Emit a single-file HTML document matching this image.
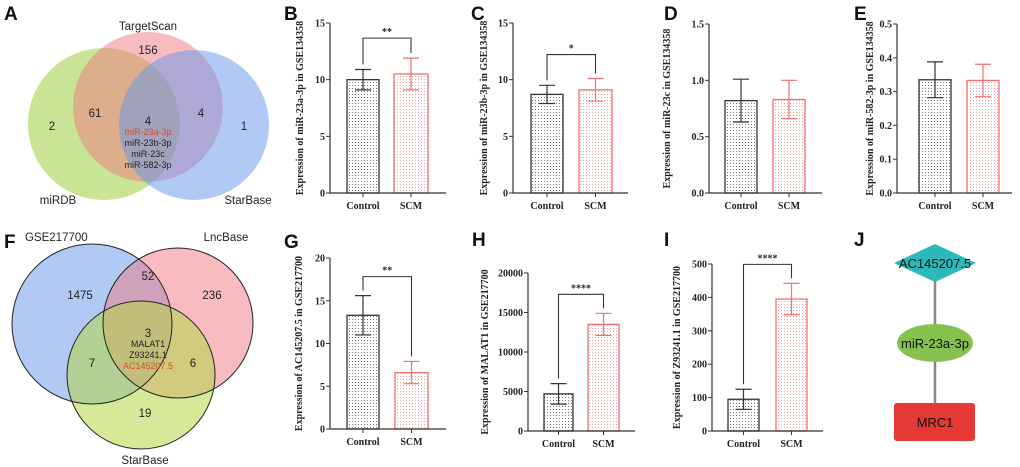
<!DOCTYPE html>
<html><head><meta charset="utf-8"><style>
html,body{margin:0;padding:0;background:#fff;}
svg{display:block;}
.pl{font-family:"Liberation Sans",sans-serif;font-weight:bold;font-size:19px;fill:#111;}
.vt{font-family:"Liberation Sans",sans-serif;font-size:11.5px;fill:#222;}
.vs{font-family:"Liberation Sans",sans-serif;font-size:9px;fill:#222;}
.ax{font-family:"Liberation Serif",serif;font-weight:bold;font-size:10px;fill:#222;}
</style></head><body>
<svg id="fig" width="1020" height="467" viewBox="0 0 1020 467" xmlns="http://www.w3.org/2000/svg">
<defs>
<pattern id="dotK" width="3" height="3" patternUnits="userSpaceOnUse"><rect width="3" height="3" fill="#fff"/><circle cx="1.5" cy="1.5" r="0.55" fill="#555"/></pattern>
<pattern id="dotR" width="3" height="3" patternUnits="userSpaceOnUse"><rect width="3" height="3" fill="#fff"/><circle cx="1.5" cy="1.5" r="0.55" fill="#f38a8a"/></pattern>
</defs>

<g>
<text class="pl" x="4" y="20">A</text><text class="pl" x="284" y="20">B</text><text class="pl" x="471" y="20">C</text>
<text class="pl" x="664" y="20">D</text><text class="pl" x="854" y="20">E</text>
<text class="pl" x="4" y="248">F</text><text class="pl" x="284" y="248">G</text><text class="pl" x="472" y="246">H</text>
<text class="pl" x="664" y="246">I</text><text class="pl" x="854" y="246">J</text>
</g>

<g>
<circle cx="104" cy="124" r="76" fill="rgb(155,205,60)" opacity="0.55"/>
<circle cx="148" cy="107" r="75" fill="rgb(240,120,130)" opacity="0.5"/>
<circle cx="194" cy="125" r="75" fill="rgb(100,150,235)" opacity="0.5"/>
<text class="vt" x="148" y="30" text-anchor="middle">TargetScan</text>
<text class="vt" x="148" y="54" text-anchor="middle">156</text>
<text class="vt" x="95" y="117" text-anchor="middle">61</text>
<text class="vt" x="52" y="130" text-anchor="middle">2</text>
<text class="vt" x="201" y="117" text-anchor="middle">4</text>
<text class="vt" x="244" y="130" text-anchor="middle">1</text>
<text class="vt" x="148" y="125" text-anchor="middle">4</text>
<text class="vs" x="148" y="135" text-anchor="middle" style="fill:#e0462f">miR-23a-3p</text>
<text class="vs" x="148" y="146" text-anchor="middle">miR-23b-3p</text>
<text class="vs" x="148" y="157" text-anchor="middle">miR-23c</text>
<text class="vs" x="148" y="168" text-anchor="middle">miR-582-3p</text>
<text class="vt" x="58" y="204" text-anchor="middle">miRDB</text>
<text class="vt" x="248" y="204" text-anchor="middle">StarBase</text>
</g>

<g>
<circle cx="92" cy="324" r="80" fill="rgb(100,150,235)" opacity="0.5"/>
<circle cx="178" cy="323" r="75" fill="rgb(240,120,130)" opacity="0.5"/>
<circle cx="141" cy="375" r="74" fill="rgb(180,215,70)" opacity="0.55"/>
<circle cx="92" cy="324" r="80" fill="none" stroke="#222" stroke-width="1"/>
<circle cx="178" cy="323" r="75" fill="none" stroke="#222" stroke-width="1"/>
<circle cx="141" cy="375" r="74" fill="none" stroke="#222" stroke-width="1"/>
<text class="vt" x="25" y="241">GSE217700</text>
<text class="vt" x="226" y="241" text-anchor="middle">LncBase</text>
<text class="vt" x="148" y="280" text-anchor="middle">52</text>
<text class="vt" x="80" y="299" text-anchor="middle">1475</text>
<text class="vt" x="212" y="299" text-anchor="middle">236</text>
<text class="vt" x="148" y="337" text-anchor="middle">3</text>
<text class="vs" x="148" y="347" text-anchor="middle">MALAT1</text>
<text class="vs" x="148" y="358" text-anchor="middle">Z93241.1</text>
<text class="vs" x="148" y="369" text-anchor="middle" style="fill:#e0462f">AC145207.5</text>
<text class="vt" x="92" y="367" text-anchor="middle">7</text>
<text class="vt" x="193" y="367" text-anchor="middle">6</text>
<text class="vt" x="145" y="417" text-anchor="middle">19</text>
<text class="vt" x="145" y="464" text-anchor="middle">StarBase</text>
</g>

<g>
<line x1="935" y1="280" x2="935" y2="404" stroke="#888" stroke-width="2.5"/>
<polygon points="935,244 976,263 935,282 894,263" fill="#2bb9ba"/>
<text x="935" y="268" text-anchor="middle" style="font-family:'Liberation Sans',sans-serif;font-size:13px;fill:#111">AC145207.5</text>
<ellipse cx="935" cy="343" rx="38" ry="19" fill="#86c04e"/>
<text x="935" y="348" text-anchor="middle" style="font-family:'Liberation Sans',sans-serif;font-size:13px;fill:#111">miR-23a-3p</text>
<rect x="894" y="403" width="81" height="38" rx="3" fill="#e53935"/>
<text x="935" y="427" text-anchor="middle" style="font-family:'Liberation Sans',sans-serif;font-size:13px;fill:#111">MRC1</text>
</g>
<g id="charts"></g>
</svg>
<script>
const categories = ["Control", "SCM"];
const bMeans = [10.0, 10.5], bErrs = [0.9, 1.4], bTicks = [0, 5, 10, 15], bSig = "**";
const cMeans = [8.7, 9.1], cErrs = [0.8, 1.0], cTicks = [0, 5, 10, 15], cSig = "*";
const dMeans = [0.82, 0.83], dErrs = [0.19, 0.17], dTicks = ["0.0", "0.5", "1.0", "1.5"];
const eMeans = [0.335, 0.333], eErrs = [0.053, 0.048], eTicks = ["0.0", "0.1", "0.2", "0.3", "0.4", "0.5"];
const gMeans = [13.3, 6.6], gErrs = [2.3, 1.3], gTicks = [0, 5, 10, 15, 20], gSig = "**";
const hMeans = [4700, 13500], hErrs = [1300, 1400], hTicks = [0, 5000, 10000, 15000, 20000], hSig = "****";
const iMeans = [95, 395], iErrs = [30, 47], iTicks = [0, 100, 200, 300, 400, 500], iSig = "****";

const NS = "http://www.w3.org/2000/svg";
const root = document.getElementById("charts");
function mk(tag, attrs, parent) {
  const e = document.createElementNS(NS, tag);
  for (const k in attrs) e.setAttribute(k, attrs[k]);
  parent.appendChild(e);
  return e;
}
function panel(name, L, means, errs, ticks, title, sig) {
  const g = mk("g", {}, root);
  
  
  const tnum = ticks.map(Number);
  const tmax = tnum[tnum.length - 1];
  const y = v => L.bottom - (v / tmax) * (L.bottom - L.top);
  const colors = ["#333", "#f27070"], fills = ["url(#dotK)", "url(#dotR)"];
  means.forEach((m, i) => {
    const x0 = L.bars[i][0], x1 = L.bars[i][1], cx = (x0 + x1) / 2;
    const r = mk("rect", {x: x0, y: y(m), width: x1 - x0, height: L.bottom - y(m), fill: fills[i], stroke: colors[i], "stroke-width": 1.3}, g);
    
    
    const eb = mk("path", {d: `M${cx},${y(m - errs[i])}V${y(m + errs[i])}M${cx - 8},${y(m + errs[i])}H${cx + 8}M${cx - 8},${y(m - errs[i])}H${cx + 8}`, stroke: colors[i], "stroke-width": 1.2, fill: "none"}, g);
    
    
    const tl = mk("text", {class: "ax", x: cx, y: L.bottom + 16, "text-anchor": "middle"}, g);
    tl.textContent = categories[i];
    
    
    mk("line", {x1: cx, x2: cx, y1: L.bottom, y2: L.bottom + 4, stroke: "#333"}, g);
  });
  const ax = mk("path", {d: `M${L.ax},${L.top}V${L.bottom}H${L.end}`, stroke: "#333", "stroke-width": 1.2, fill: "none"}, g);
  
  
  ticks.forEach(t => {
    const yy = y(Number(t));
    mk("line", {x1: L.ax - 4, x2: L.ax, y1: yy, y2: yy, stroke: "#333"}, g);
    const tx = mk("text", {class: "ax", x: L.ax - 5, y: yy + 3.5, "text-anchor": "end"}, g);
    tx.textContent = t;
    
    
  });
  const yt = mk("text", {class: "ax", transform: `translate(${L.tx},${(L.top + L.bottom) / 2}) rotate(-90)`, "text-anchor": "middle", "font-size": 10.5}, g);
  yt.textContent = title;
  
  
  if (sig) {
    const c0 = (L.bars[0][0] + L.bars[0][1]) / 2, c1 = (L.bars[1][0] + L.bars[1][1]) / 2;
    const top0 = y(means[0] + errs[0]), top1 = y(means[1] + errs[1]);
    const by = Math.min(top0, top1) - L.gap;
    const br = mk("path", {d: `M${c0},${top0 - 5}V${by}H${c1}V${top1 - 5}`, stroke: "#333", "stroke-width": 1.1, fill: "none"}, g);
    
    
    const st = mk("text", {class: "ax", x: (c0 + c1) / 2, y: by - 3, "text-anchor": "middle", "font-size": 12}, g);
    st.textContent = sig;
    
    
  }
}
panel("chart-b-mir-23a", {ax: 330, top: 23, bottom: 193, end: 446, bars: [[347, 379], [394, 428]], tx: 303, gap: 20}, bMeans, bErrs, bTicks, "Expression of miR-23a-3p in GSE134358", bSig);
panel("chart-c-mir-23b", {ax: 513, top: 23, bottom: 193, end: 628, bars: [[531, 563], [579, 612]], tx: 487, gap: 24}, cMeans, cErrs, cTicks, "Expression of miR-23b-3p in GSE134358", cSig);
panel("chart-d-mir-23c", {ax: 709, top: 24, bottom: 193, end: 822, bars: [[725, 757], [773, 805]], tx: 670, gap: 20}, dMeans, dErrs, dTicks, "Expression of miR-23c in GSE134358", null);
panel("chart-e-mir-582", {ax: 897, top: 24, bottom: 193, end: 1012, bars: [[919, 951], [967, 999]], tx: 873, gap: 20}, eMeans, eErrs, eTicks, "Expression of miR-582-3p in GSE134358", null);
panel("chart-g-ac145207", {ax: 330, top: 258, bottom: 429, end: 446, bars: [[347, 379], [395, 428]], tx: 302, gap: 19}, gMeans, gErrs, gTicks, "Expression of AC145207.5 in GSE217700", gSig);
panel("chart-h-malat1", {ax: 528, top: 273, bottom: 431, end: 635, bars: [[544, 573], [588, 619]], tx: 488, gap: 19}, hMeans, hErrs, hTicks, "Expression of MALAT1 in GSE217700", hSig);
panel("chart-i-z93241", {ax: 712, top: 264, bottom: 431, end: 823, bars: [[728, 759], [776, 807]], tx: 680, gap: 19}, iMeans, iErrs, iTicks, "Expression of Z93241.1 in GSE217700", iSig);
</script>
</body></html>
